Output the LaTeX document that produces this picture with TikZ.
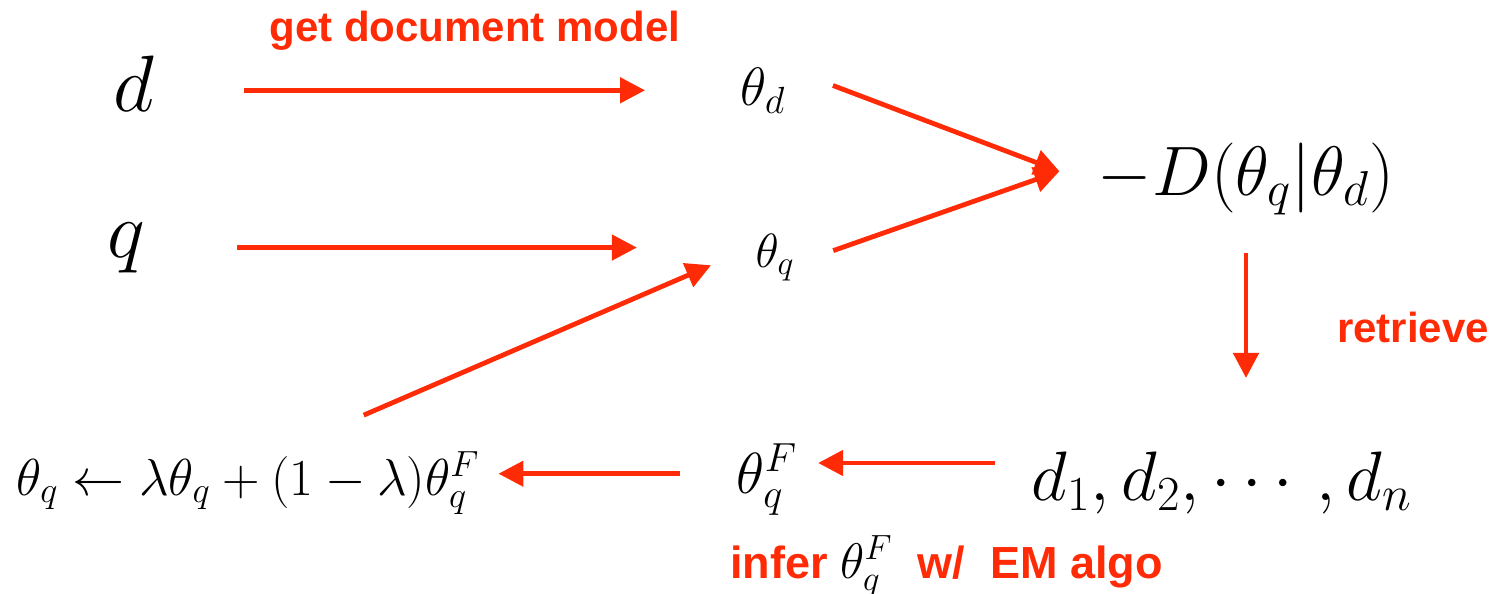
\RequirePackage{fix-cm}
\documentclass[tikz,border=0pt]{standalone}
\usepackage{amsmath}
\usepackage{fontspec}
\newfontfamily\labelfont{Liberation Sans}
\usepackage{tikz}
\usetikzlibrary{arrows.meta,calc}
\definecolor{Flow}{HTML}{FF2B06}
\definecolor{Ink}{HTML}{000000}

\begin{document}
\begin{tikzpicture}[x=0.5pt,y=-0.5pt,
  term/.style={inner sep=0pt,outer sep=0pt,anchor=base,text=Ink},
  note/.style={inner sep=0pt,anchor=base,text=Flow,font=\labelfont\bfseries\fontsize{21}{24}\selectfont},
  flow/.style={draw=Flow,line width=2.4pt,-{Triangle[length=12.5pt,width=12.5pt]}}]
  \useasboundingbox (0,0) rectangle (1494,594);
  % inputs and models
  \node[term,font=\fontsize{40}{44}\selectfont] (d) at (134,111) {$d$};
  \node[term,font=\fontsize{40}{44}\selectfont] (q) at (126,257) {$q$};
  \node[term,font=\fontsize{27}{30}\selectfont] (td) at (763,105) {$\theta_d$};
  \node[term,font=\fontsize{24}{28}\selectfont] (tq) at (775,267) {$\theta_q$};
  \node[term,font=\fontsize{35}{40}\selectfont] (dkl) at (1246,195) {$-D(\theta_q|\theta_d)$};
  % feedback loop
  \node[term,font=\fontsize{35}{40}\selectfont] (dlist) at (1222,500) {$d_1,d_2,\cdots,d_n$};
  \node[term,font=\fontsize{29}{32}\selectfont] (tqf) at (767,493) {$\theta_q^F$};
  \node[term,font=\fontsize{26}{30}\selectfont] (upd) at (248,495)
    {$\theta_q\leftarrow\lambda\theta_q+(1-\lambda)\theta_q^F$};
  % labels
  \node[note] (lget) at (475,41) {get document model};
  \node[note] (lret) at (1413,342) {retrieve};
  \node[note,anchor=base west,font=\labelfont\bfseries\fontsize{22.5}{26}\selectfont] (linfer) at (730,578)
    {infer \textcolor{Ink}{\fontsize{25}{28}\selectfont$\theta_q^F$}\ \ w/\ \ EM algo};
  % arrows
  \coordinate (meet) at ([xshift=-19.25pt,yshift=3.75pt]dkl.west);
  \draw[flow,shorten <=45pt,shorten >=47.75pt] (td.west -| d.east) -- (td.west);
  \draw[flow,shorten <=46.25pt,shorten >=59.4pt] (q.east) -- (q.east -| tq.west);
  \draw[flow,shorten <=25.4pt] (td.north east) -- (meet);
  \draw[flow,shorten <=20.6pt] (tq.-20) -- (meet);
  \draw[flow,shorten <=45.6pt,shorten >=24.3pt] ([xshift=16pt]upd.north) -- (tq.150);
  \draw[flow,shorten <=18.75pt,shorten >=36.7pt] (dkl.south) -- (dkl.south |- dlist.north);
  \draw[flow,shorten <=18.25pt,shorten >=10.5pt] ([yshift=9.75pt]dlist.west) -- ([yshift=9.75pt]dlist.west -| tqf.east);
  \draw[flow,shorten <=28.5pt,shorten >=9.5pt] ([yshift=3pt]tqf.west) -- ([yshift=3pt]tqf.west -| upd.east);
\end{tikzpicture}
\end{document}
